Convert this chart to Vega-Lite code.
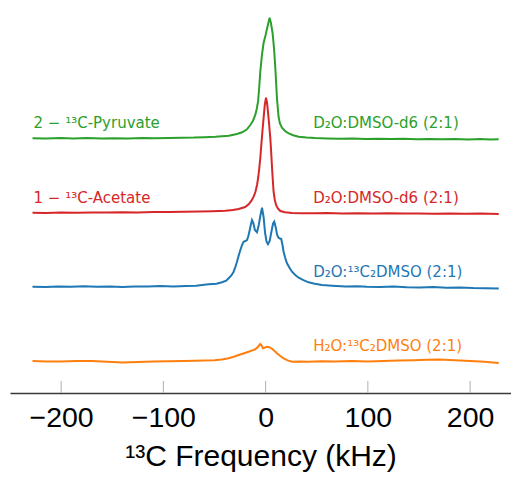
{
  "$schema": "https://vega.github.io/schema/vega-lite/v6.json",
  "width": 501,
  "height": 393,
  "autosize": {"type": "none"},
  "padding": {"left": 10, "top": 0, "right": 0, "bottom": 84},
  "config": {
    "view": {"stroke": null},
    "axis": {"grid": false}
  },
  "datasets": {
    "spectra": [
      {"series": "green", "kHz": -228, "v": 254.8}, {"series": "green", "kHz": -215, "v": 254.5}, {"series": "green", "kHz": -200, "v": 255.0}, {"series": "green", "kHz": -188, "v": 254.6}, {"series": "green", "kHz": -175, "v": 254.9}, {"series": "green", "kHz": -160, "v": 254.4}, {"series": "green", "kHz": -148, "v": 254.8}, {"series": "green", "kHz": -135, "v": 254.6}, {"series": "green", "kHz": -120, "v": 255.0}, {"series": "green", "kHz": -108, "v": 254.7}, {"series": "green", "kHz": -95, "v": 254.9}, {"series": "green", "kHz": -82, "v": 255.2}, {"series": "green", "kHz": -70, "v": 255.4}, {"series": "green", "kHz": -60, "v": 255.8}, {"series": "green", "kHz": -49, "v": 256.2}, {"series": "green", "kHz": -36, "v": 257.3}, {"series": "green", "kHz": -28, "v": 259.0}, {"series": "green", "kHz": -23, "v": 260.7}, {"series": "green", "kHz": -18.5, "v": 263.5}, {"series": "green", "kHz": -15, "v": 268}, {"series": "green", "kHz": -12.5, "v": 272}, {"series": "green", "kHz": -10.1, "v": 278}, {"series": "green", "kHz": -8.7, "v": 284}, {"series": "green", "kHz": -7.4, "v": 291.3}, {"series": "green", "kHz": -6.3, "v": 305}, {"series": "green", "kHz": -5.2, "v": 321.3}, {"series": "green", "kHz": -3.6, "v": 338}, {"series": "green", "kHz": -2.0, "v": 350}, {"series": "green", "kHz": 0, "v": 358}, {"series": "green", "kHz": 2, "v": 367}, {"series": "green", "kHz": 3.9, "v": 375.3}, {"series": "green", "kHz": 5.2, "v": 370}, {"series": "green", "kHz": 6.8, "v": 360}, {"series": "green", "kHz": 8.2, "v": 345}, {"series": "green", "kHz": 9.5, "v": 325}, {"series": "green", "kHz": 11.1, "v": 294.7}, {"series": "green", "kHz": 12.7, "v": 276}, {"series": "green", "kHz": 14, "v": 269.5}, {"series": "green", "kHz": 16, "v": 265.3}, {"series": "green", "kHz": 19, "v": 262}, {"series": "green", "kHz": 22.5, "v": 259.7}, {"series": "green", "kHz": 27, "v": 257.8}, {"series": "green", "kHz": 32.3, "v": 256.3}, {"series": "green", "kHz": 40, "v": 255.5}, {"series": "green", "kHz": 48.6, "v": 255}, {"series": "green", "kHz": 60, "v": 254.6}, {"series": "green", "kHz": 72, "v": 254.2}, {"series": "green", "kHz": 85, "v": 254.5}, {"series": "green", "kHz": 98, "v": 254.1}, {"series": "green", "kHz": 110, "v": 254.3}, {"series": "green", "kHz": 122, "v": 253.9}, {"series": "green", "kHz": 135, "v": 254.2}, {"series": "green", "kHz": 148, "v": 253.8}, {"series": "green", "kHz": 160, "v": 254.1}, {"series": "green", "kHz": 172, "v": 253.7}, {"series": "green", "kHz": 185, "v": 254.0}, {"series": "green", "kHz": 198, "v": 253.6}, {"series": "green", "kHz": 210, "v": 253.9}, {"series": "green", "kHz": 220, "v": 253.5}, {"series": "green", "kHz": 228, "v": 253.8},

      {"series": "red", "kHz": -228, "v": 180.3}, {"series": "red", "kHz": -215, "v": 180.1}, {"series": "red", "kHz": -200, "v": 180.5}, {"series": "red", "kHz": -185, "v": 180.2}, {"series": "red", "kHz": -170, "v": 180.6}, {"series": "red", "kHz": -155, "v": 180.4}, {"series": "red", "kHz": -140, "v": 180.8}, {"series": "red", "kHz": -125, "v": 180.6}, {"series": "red", "kHz": -110, "v": 181.0}, {"series": "red", "kHz": -95, "v": 181.0}, {"series": "red", "kHz": -80, "v": 181.3}, {"series": "red", "kHz": -65, "v": 181.5}, {"series": "red", "kHz": -52, "v": 181.8}, {"series": "red", "kHz": -39.4, "v": 182.3}, {"series": "red", "kHz": -32, "v": 183}, {"series": "red", "kHz": -26.4, "v": 184}, {"series": "red", "kHz": -20, "v": 186}, {"series": "red", "kHz": -16.6, "v": 188.7}, {"series": "red", "kHz": -14, "v": 192}, {"series": "red", "kHz": -11.7, "v": 196.3}, {"series": "red", "kHz": -10, "v": 201}, {"series": "red", "kHz": -8.4, "v": 208}, {"series": "red", "kHz": -7.3, "v": 215}, {"series": "red", "kHz": -6.2, "v": 224.7}, {"series": "red", "kHz": -5.2, "v": 235}, {"series": "red", "kHz": -4.2, "v": 248}, {"series": "red", "kHz": -3.1, "v": 262}, {"series": "red", "kHz": -2.0, "v": 274.7}, {"series": "red", "kHz": -0.8, "v": 288}, {"series": "red", "kHz": 0.4, "v": 295.3}, {"series": "red", "kHz": 1.4, "v": 290}, {"series": "red", "kHz": 2.3, "v": 281.3}, {"series": "red", "kHz": 3.5, "v": 268}, {"series": "red", "kHz": 4.6, "v": 254.7}, {"series": "red", "kHz": 5.5, "v": 240}, {"series": "red", "kHz": 6.3, "v": 224.7}, {"series": "red", "kHz": 7.1, "v": 212}, {"series": "red", "kHz": 7.8, "v": 201.3}, {"series": "red", "kHz": 9, "v": 193}, {"series": "red", "kHz": 10.2, "v": 188}, {"series": "red", "kHz": 12, "v": 184.5}, {"series": "red", "kHz": 14.4, "v": 182}, {"series": "red", "kHz": 19, "v": 180.8}, {"series": "red", "kHz": 25.8, "v": 180}, {"series": "red", "kHz": 35, "v": 179.8}, {"series": "red", "kHz": 48.6, "v": 179.7}, {"series": "red", "kHz": 60, "v": 179.9}, {"series": "red", "kHz": 75, "v": 179.6}, {"series": "red", "kHz": 90, "v": 179.8}, {"series": "red", "kHz": 105, "v": 179.5}, {"series": "red", "kHz": 120, "v": 179.7}, {"series": "red", "kHz": 135, "v": 179.4}, {"series": "red", "kHz": 150, "v": 179.6}, {"series": "red", "kHz": 165, "v": 179.3}, {"series": "red", "kHz": 180, "v": 179.5}, {"series": "red", "kHz": 195, "v": 179.2}, {"series": "red", "kHz": 210, "v": 179.4}, {"series": "red", "kHz": 228, "v": 179.0},

      {"series": "blue", "kHz": -228, "v": 106.3}, {"series": "blue", "kHz": -215, "v": 106.0}, {"series": "blue", "kHz": -203, "v": 106.6}, {"series": "blue", "kHz": -190, "v": 106.2}, {"series": "blue", "kHz": -178, "v": 106.7}, {"series": "blue", "kHz": -165, "v": 106.3}, {"series": "blue", "kHz": -152, "v": 106.5}, {"series": "blue", "kHz": -140, "v": 106.1}, {"series": "blue", "kHz": -128, "v": 106.6}, {"series": "blue", "kHz": -115, "v": 106.4}, {"series": "blue", "kHz": -103, "v": 106.9}, {"series": "blue", "kHz": -90, "v": 106.6}, {"series": "blue", "kHz": -78, "v": 107.1}, {"series": "blue", "kHz": -68, "v": 107.3}, {"series": "blue", "kHz": -60, "v": 108.3}, {"series": "blue", "kHz": -55.7, "v": 108.8}, {"series": "blue", "kHz": -48, "v": 109.3}, {"series": "blue", "kHz": -42.6, "v": 110.7}, {"series": "blue", "kHz": -38.5, "v": 112.3}, {"series": "blue", "kHz": -36.2, "v": 114.7}, {"series": "blue", "kHz": -33.5, "v": 117.5}, {"series": "blue", "kHz": -31.3, "v": 121.3}, {"series": "blue", "kHz": -29.6, "v": 126}, {"series": "blue", "kHz": -28.0, "v": 131.3}, {"series": "blue", "kHz": -26.3, "v": 137.5}, {"series": "blue", "kHz": -24.7, "v": 143}, {"series": "blue", "kHz": -23, "v": 148}, {"series": "blue", "kHz": -21.5, "v": 151.3}, {"series": "blue", "kHz": -19.8, "v": 152}, {"series": "blue", "kHz": -18.2, "v": 153}, {"series": "blue", "kHz": -17, "v": 156.5}, {"series": "blue", "kHz": -15.9, "v": 161.3}, {"series": "blue", "kHz": -14.5, "v": 168}, {"series": "blue", "kHz": -13.3, "v": 173}, {"series": "blue", "kHz": -12, "v": 170}, {"series": "blue", "kHz": -10.5, "v": 163}, {"series": "blue", "kHz": -8.4, "v": 160.7}, {"series": "blue", "kHz": -6.7, "v": 168}, {"series": "blue", "kHz": -5, "v": 178}, {"series": "blue", "kHz": -3.5, "v": 185.3}, {"series": "blue", "kHz": -2, "v": 176}, {"series": "blue", "kHz": -0.5, "v": 160}, {"series": "blue", "kHz": 1, "v": 151}, {"series": "blue", "kHz": 2.3, "v": 148.7}, {"series": "blue", "kHz": 4, "v": 152}, {"series": "blue", "kHz": 5.8, "v": 162}, {"series": "blue", "kHz": 7.3, "v": 169.5}, {"series": "blue", "kHz": 8.5, "v": 171.3}, {"series": "blue", "kHz": 9.8, "v": 166}, {"series": "blue", "kHz": 11.3, "v": 158}, {"series": "blue", "kHz": 12.7, "v": 155.3}, {"series": "blue", "kHz": 14, "v": 154.5}, {"series": "blue", "kHz": 15.3, "v": 154}, {"series": "blue", "kHz": 16.5, "v": 148}, {"series": "blue", "kHz": 17.6, "v": 141.3}, {"series": "blue", "kHz": 19.2, "v": 135}, {"series": "blue", "kHz": 20.9, "v": 129.7}, {"series": "blue", "kHz": 23.5, "v": 125}, {"series": "blue", "kHz": 25.8, "v": 121.3}, {"series": "blue", "kHz": 29, "v": 118}, {"series": "blue", "kHz": 32.3, "v": 115.3}, {"series": "blue", "kHz": 37, "v": 112.8}, {"series": "blue", "kHz": 42, "v": 110.7}, {"series": "blue", "kHz": 48, "v": 109.2}, {"series": "blue", "kHz": 55.1, "v": 108}, {"series": "blue", "kHz": 65, "v": 107.3}, {"series": "blue", "kHz": 78, "v": 106.5}, {"series": "blue", "kHz": 90, "v": 106.8}, {"series": "blue", "kHz": 99, "v": 106.3}, {"series": "blue", "kHz": 112, "v": 106.0}, {"series": "blue", "kHz": 125, "v": 106.4}, {"series": "blue", "kHz": 138, "v": 105.8}, {"series": "blue", "kHz": 151, "v": 105.5}, {"series": "blue", "kHz": 164, "v": 105.9}, {"series": "blue", "kHz": 177, "v": 105.3}, {"series": "blue", "kHz": 190, "v": 105.6}, {"series": "blue", "kHz": 203, "v": 105.0}, {"series": "blue", "kHz": 215, "v": 104.8}, {"series": "blue", "kHz": 228, "v": 104.4},

      {"series": "orange", "kHz": -228, "v": 32.0}, {"series": "orange", "kHz": -214, "v": 31.6}, {"series": "orange", "kHz": -200, "v": 31.5}, {"series": "orange", "kHz": -185, "v": 32.1}, {"series": "orange", "kHz": -170, "v": 32.0}, {"series": "orange", "kHz": -155, "v": 31.2}, {"series": "orange", "kHz": -140, "v": 30.5}, {"series": "orange", "kHz": -125, "v": 31.0}, {"series": "orange", "kHz": -110, "v": 31.5}, {"series": "orange", "kHz": -95, "v": 31.8}, {"series": "orange", "kHz": -80, "v": 32.0}, {"series": "orange", "kHz": -70, "v": 32.2}, {"series": "orange", "kHz": -60, "v": 32.5}, {"series": "orange", "kHz": -50, "v": 32.8}, {"series": "orange", "kHz": -43, "v": 33.5}, {"series": "orange", "kHz": -36.2, "v": 34.7}, {"series": "orange", "kHz": -31, "v": 36.3}, {"series": "orange", "kHz": -26.4, "v": 38}, {"series": "orange", "kHz": -21, "v": 39.8}, {"series": "orange", "kHz": -16.6, "v": 41.3}, {"series": "orange", "kHz": -13, "v": 42.6}, {"series": "orange", "kHz": -10.1, "v": 43.7}, {"series": "orange", "kHz": -7.4, "v": 46.3}, {"series": "orange", "kHz": -5.2, "v": 49}, {"series": "orange", "kHz": -3.8, "v": 47.5}, {"series": "orange", "kHz": -2.6, "v": 44.7}, {"series": "orange", "kHz": -0.5, "v": 45.5}, {"series": "orange", "kHz": 1.4, "v": 46.3}, {"series": "orange", "kHz": 3.5, "v": 45.8}, {"series": "orange", "kHz": 5.6, "v": 44.7}, {"series": "orange", "kHz": 8.5, "v": 42.3}, {"series": "orange", "kHz": 11.1, "v": 39.7}, {"series": "orange", "kHz": 14.3, "v": 37.0}, {"series": "orange", "kHz": 17.6, "v": 34.7}, {"series": "orange", "kHz": 21.5, "v": 32.6}, {"series": "orange", "kHz": 25.8, "v": 31.3}, {"series": "orange", "kHz": 33, "v": 31.6}, {"series": "orange", "kHz": 42, "v": 31.3}, {"series": "orange", "kHz": 55, "v": 31.7}, {"series": "orange", "kHz": 68, "v": 31.5}, {"series": "orange", "kHz": 84, "v": 31.9}, {"series": "orange", "kHz": 100, "v": 31.5}, {"series": "orange", "kHz": 115, "v": 32.1}, {"series": "orange", "kHz": 130, "v": 32.5}, {"series": "orange", "kHz": 145, "v": 32.8}, {"series": "orange", "kHz": 158, "v": 33.2}, {"series": "orange", "kHz": 170, "v": 33.5}, {"series": "orange", "kHz": 185, "v": 32.8}, {"series": "orange", "kHz": 200, "v": 32.0}, {"series": "orange", "kHz": 214, "v": 31.2}, {"series": "orange", "kHz": 228, "v": 30.0}
    ],
    "labels": [
      {"series": "green", "kHz": -227, "v": 264.7, "text": "2 − ¹³C-Pyruvate"},
      {"series": "green", "kHz": 46.6, "v": 264.7, "text": "D₂O:DMSO-d6 (2:1)"},
      {"series": "red", "kHz": -227, "v": 190.3, "text": "1 − ¹³C-Acetate"},
      {"series": "red", "kHz": 46.6, "v": 190.3, "text": "D₂O:DMSO-d6 (2:1)"},
      {"series": "blue", "kHz": 46.6, "v": 116.3, "text": "D₂O:¹³C₂DMSO (2:1)"},
      {"series": "orange", "kHz": 46.6, "v": 42.3, "text": "H₂O:¹³C₂DMSO (2:1)"}
    ],
    "tickmarks": [
      {"kHz": -200, "v": 0, "v2": 12}, {"kHz": -100, "v": 0, "v2": 12}, {"kHz": 0, "v": 0, "v2": 12}, {"kHz": 100, "v": 0, "v2": 12}, {"kHz": 200, "v": 0, "v2": 12}
    ]
  },
  "layer": [
    {
      "data": {"name": "spectra"},
      "mark": {"type": "line", "strokeWidth": 2, "interpolate": "linear"},
      "encoding": {
        "x": {
          "field": "kHz", "type": "quantitative",
          "scale": {"domain": [-250, 240], "nice": false, "zero": false},
          "axis": {
            "values": [-200, -100, 0, 100, 200],
            "title": "¹³C Frequency (kHz)",
            "domainColor": "#3a3a3a", "domainWidth": 1.4,
            "ticks": false,
            "labelFont": "Liberation Sans", "labelFontSize": 28.5, "labelColor": "#000000", "labelPadding": 10,
            "titleFont": "Liberation Sans", "titleFontSize": 30, "titleFontWeight": "normal", "titleColor": "#000000", "titlePadding": 10
          }
        },
        "y": {
          "field": "v", "type": "quantitative",
          "scale": {"domain": [0, 393], "nice": false, "zero": false},
          "axis": null
        },
        "color": {
          "field": "series", "type": "nominal",
          "scale": {"domain": ["orange", "blue", "red", "green"], "range": ["#ff7f0e", "#1f77b4", "#d62728", "#2ca02c"]},
          "legend": null
        },
        "detail": {"field": "series"}
      }
    },
    {
      "data": {"name": "tickmarks"},
      "mark": {"type": "rule", "color": "#b0b0b0", "strokeWidth": 1},
      "encoding": {
        "x": {"field": "kHz", "type": "quantitative"},
        "y": {"field": "v", "type": "quantitative"},
        "y2": {"field": "v2"}
      }
    },
    {
      "data": {"name": "labels"},
      "mark": {"type": "text", "align": "left", "baseline": "alphabetic", "font": "DejaVu Sans", "fontSize": 15},
      "encoding": {
        "x": {"field": "kHz", "type": "quantitative"},
        "y": {"field": "v", "type": "quantitative"},
        "text": {"field": "text"},
        "color": {"field": "series", "type": "nominal", "legend": null}
      }
    }
  ]
}
